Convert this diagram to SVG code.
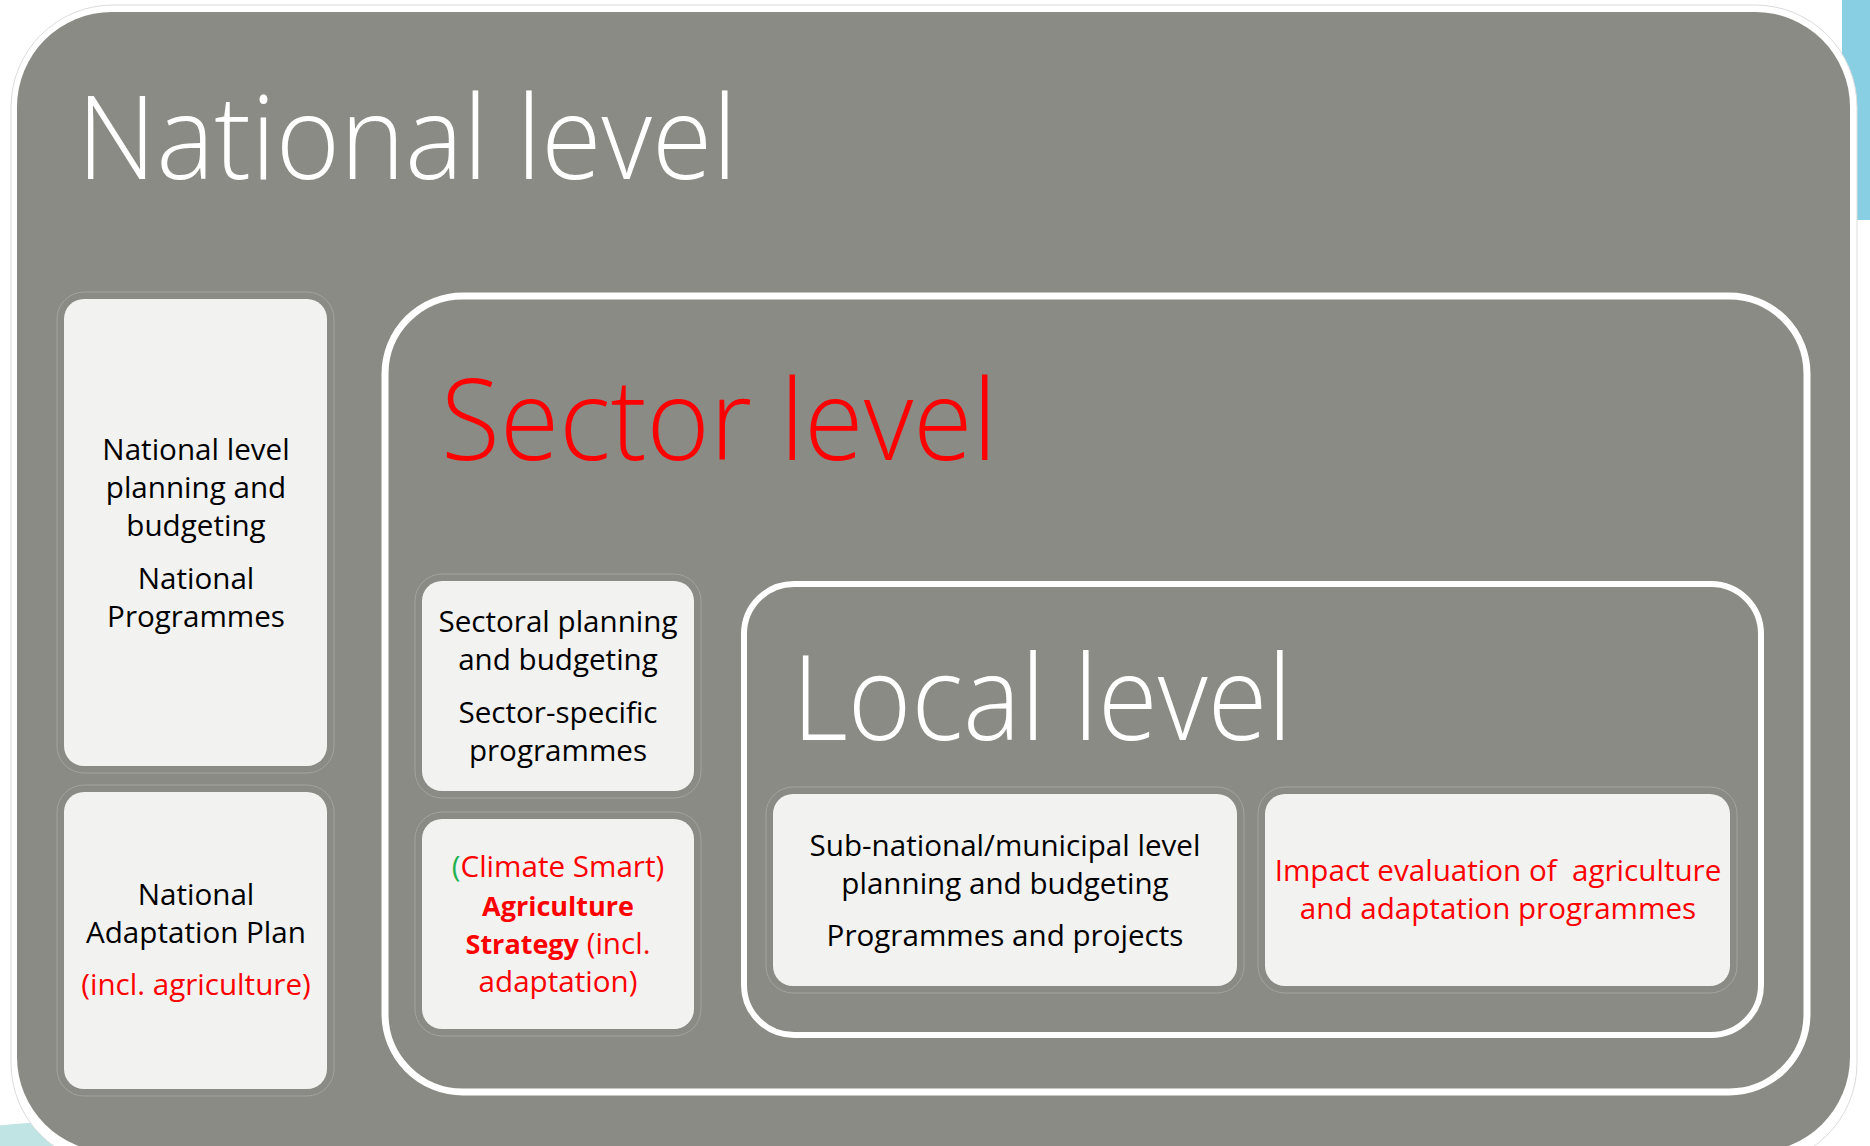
<svg xmlns="http://www.w3.org/2000/svg" width="1870" height="1146" viewBox="0 0 1870 1146">
<style>
.title{font-family:"Open Sans","Noto Sans",sans-serif;font-weight:300;}
.t{font-family:"Open Sans","Noto Sans",sans-serif;font-size:29.6px;text-anchor:middle;fill:#000;}
.red{fill:#ff0000;}
.b{font-weight:bold;font-size:27px;}
.node{fill:#f2f2f0;}
.halo{fill:none;stroke:#a3a39d;stroke-width:1;}
.frame{fill:none;stroke:#ffffff;}
</style>
<rect x="0" y="0" width="1870" height="1146" fill="#ffffff"/>
<ellipse cx="60" cy="1170" rx="160" ry="48" fill="#c0e4e4"/>
<rect x="1842" y="0" width="28" height="220" fill="#88cfe4"/>
<g id="national">
<rect x="11" y="5" width="1846" height="1160" rx="102" fill="#ffffff" stroke="#dcdcdc" stroke-width="1"/>
<rect x="17" y="12" width="1833" height="1140" rx="95" fill="#8b8b85"/>
<text class="title" x="77" y="179" font-size="116" fill="#ffffff" textLength="660" lengthAdjust="spacingAndGlyphs">National level</text>
</g>
<g id="sector">
<rect class="frame" x="385" y="296" width="1422" height="796" rx="78" stroke-width="7"/>
<text class="title" x="441" y="460" font-size="113" fill="#ff0000" textLength="556" lengthAdjust="spacingAndGlyphs">Sector level</text>
</g>
<g id="local">
<rect class="frame" x="744" y="584" width="1017" height="451" rx="50" stroke-width="6"/>
<text class="title" x="792" y="740" font-size="118" fill="#ffffff" textLength="500" lengthAdjust="spacingAndGlyphs">Local level</text>
</g>
<g id="node-national-planning">
<rect class="halo" x="57" y="292" width="277" height="481" rx="27"/>
<rect class="node" x="64" y="299" width="263" height="467" rx="20"/>
<text class="t"><tspan x="196" y="460">National level</tspan><tspan x="196" y="498">planning and</tspan><tspan x="196" y="536">budgeting</tspan><tspan x="196" y="589">National</tspan><tspan x="196" y="627">Programmes</tspan></text>
</g>
<g id="node-nap">
<rect class="halo" x="57" y="785" width="277" height="311" rx="27"/>
<rect class="node" x="64" y="792" width="263" height="297" rx="20"/>
<text class="t"><tspan x="196" y="905">National</tspan><tspan x="196" y="943">Adaptation Plan</tspan><tspan class="red" x="196" y="995">(incl. agriculture)</tspan></text>
</g>
<g id="node-sectoral">
<rect class="halo" x="415" y="574" width="286" height="224" rx="27"/>
<rect class="node" x="422" y="581" width="272" height="210" rx="20"/>
<text class="t"><tspan x="558" y="632">Sectoral planning</tspan><tspan x="558" y="670">and budgeting</tspan><tspan x="558" y="723">Sector-specific</tspan><tspan x="558" y="761">programmes</tspan></text>
</g>
<g id="node-strategy">
<rect class="halo" x="415" y="812" width="286" height="224" rx="27"/>
<rect class="node" x="422" y="819" width="272" height="210" rx="20"/>
<text class="t red"><tspan x="558" y="877"><tspan fill="#22b14c">(</tspan>Climate Smart)</tspan><tspan class="b" x="558" y="916">Agriculture</tspan><tspan x="558" y="954"><tspan class="b">Strategy</tspan> (incl.</tspan><tspan x="558" y="992">adaptation)</tspan></text>
</g>
<g id="node-subnational">
<rect class="halo" x="766" y="787" width="478" height="206" rx="27"/>
<rect class="node" x="773" y="794" width="464" height="192" rx="20"/>
<text class="t"><tspan x="1005" y="856">Sub-national/municipal level</tspan><tspan x="1005" y="894">planning and budgeting</tspan><tspan x="1005" y="946">Programmes and projects</tspan></text>
</g>
<g id="node-impact">
<rect class="halo" x="1258" y="787" width="479" height="206" rx="27"/>
<rect class="node" x="1265" y="794" width="465" height="192" rx="20"/>
<text class="t red" xml:space="preserve"><tspan x="1498" y="881">Impact evaluation of  agriculture</tspan><tspan x="1498" y="919">and adaptation programmes</tspan></text>
</g>
<g id="connectors"></g>
</svg>
